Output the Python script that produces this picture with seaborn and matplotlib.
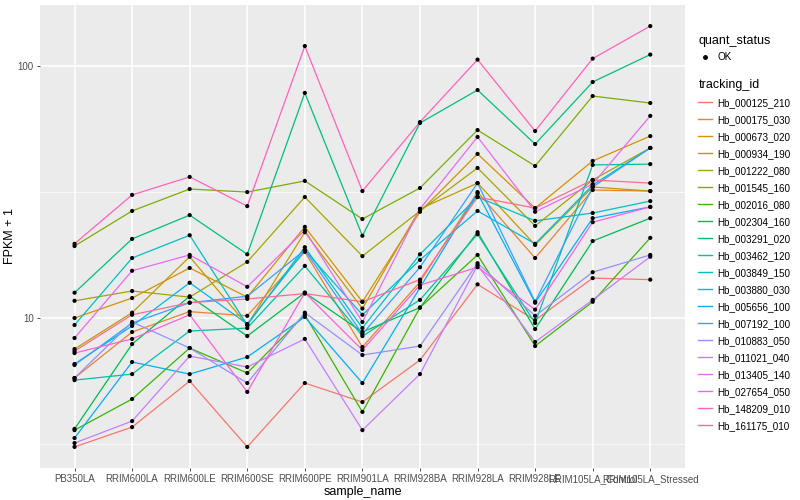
import numpy as np
import pandas as pd
import seaborn as sns
import matplotlib.pyplot as plt
from matplotlib.lines import Line2D

# samples on the x axis
samples = ['PB350LA', 'RRIM600LA', 'RRIM600LE', 'RRIM600SE', 'RRIM600PE', 'RRIM901LA',
           'RRIM928BA', 'RRIM928LA', 'RRIM928LE', 'RRIM105LA_Control', 'RRIM105LA_Stressed']

tracking_ids = ['Hb_000125_210', 'Hb_000175_030', 'Hb_000673_020', 'Hb_000934_190',
                'Hb_001222_080', 'Hb_001545_160', 'Hb_002016_080', 'Hb_002304_160',
                'Hb_003291_020', 'Hb_003462_120', 'Hb_003849_150', 'Hb_003880_030',
                'Hb_005656_100', 'Hb_007192_100', 'Hb_010883_050', 'Hb_011021_040',
                'Hb_013405_140', 'Hb_027654_050', 'Hb_148209_010', 'Hb_161175_010']

# FPKM + 1, one list per gene (same order as samples)
hb_000125_210 = [3.08, 3.69, 5.62, 3.08, 5.52, 4.64, 6.81, 13.6, 9.8, 14.4, 14.2]
hb_000175_030 = [5.78, 8.80, 10.6, 10.2, 18.3, 7.67, 13.9, 31.6, 17.3, 32.2, 31.9]
hb_000673_020 = [10.0, 12.0, 15.8, 12.1, 23.0, 11.6, 26.4, 44.8, 27.3, 42.0, 52.7]
hb_000934_190 = [7.53, 10.5, 17.5, 9.38, 21.9, 10.9, 27.1, 34.3, 19.5, 33.1, 31.9]
hb_001222_080 = [11.7, 12.8, 12.1, 16.7, 30.2, 17.6, 26.6, 39.4, 23.2, 35.3, 47.3]
hb_001545_160 = [19.3, 26.6, 32.5, 31.6, 35.0, 24.7, 32.8, 55.7, 40.1, 76.0, 71.3]
hb_002016_080 = [3.59, 4.77, 7.60, 6.05, 10.3, 4.24, 11.0, 17.8, 7.74, 11.6, 20.8]
hb_002304_160 = [3.63, 7.88, 12.2, 8.48, 12.6, 8.80, 11.0, 21.9, 9.04, 20.2, 24.9]
hb_003291_020 = [12.6, 20.6, 25.6, 17.9, 78.2, 21.2, 59.4, 80.3, 49.0, 86.4, 111.0]
hb_003462_120 = [5.67, 5.99, 8.88, 9.12, 16.1, 8.48, 11.8, 21.5, 9.55, 40.5, 40.8]
hb_003849_150 = [9.38, 17.3, 21.3, 9.38, 19.1, 9.12, 17.9, 30.2, 24.3, 26.1, 29.1]
hb_003880_030 = [6.57, 9.30, 13.8, 9.47, 18.6, 10.3, 17.0, 26.6, 19.7, 33.7, 47.3]
hb_005656_100 = [3.34, 6.69, 5.99, 7.00, 10.1, 5.52, 13.2, 31.3, 11.5, 24.9, 27.6]
hb_007192_100 = [6.51, 9.55, 11.5, 12.2, 18.6, 8.64, 15.9, 34.3, 11.6, 33.1, 47.3]
hb_010883_050 = [5.78, 9.64, 7.60, 5.52, 10.5, 7.13, 7.74, 16.5, 10.2, 15.2, 17.8]
hb_011021_040 = [3.19, 3.90, 7.06, 6.39, 8.26, 3.59, 5.99, 16.2, 8.03, 11.8, 17.5]
hb_013405_140 = [8.33, 15.4, 17.8, 13.3, 22.3, 9.64, 27.1, 52.3, 26.4, 34.0, 63.4]
hb_027654_050 = [7.26, 8.26, 10.3, 5.09, 12.6, 7.46, 13.5, 15.9, 10.8, 24.0, 27.6]
hb_148209_010 = [19.7, 30.8, 36.3, 27.8, 120.0, 31.9, 59.9, 106.0, 55.2, 107.0, 144.0]
hb_161175_010 = [7.39, 10.3, 11.5, 11.9, 12.5, 11.6, 14.2, 30.2, 27.3, 35.3, 34.3]

series = [hb_000125_210, hb_000175_030, hb_000673_020, hb_000934_190, hb_001222_080,
          hb_001545_160, hb_002016_080, hb_002304_160, hb_003291_020, hb_003462_120,
          hb_003849_150, hb_003880_030, hb_005656_100, hb_007192_100, hb_010883_050,
          hb_011021_040, hb_013405_140, hb_027654_050, hb_148209_010, hb_161175_010]

# ggplot2 default hue palette for 20 levels
colors = ['#F8766D', '#EA8331', '#D89000', '#C09B00', '#A3A500', '#7CAE00', '#39B600',
          '#00BB4E', '#00BF7D', '#00C1A3', '#00BFC4', '#00BAE0', '#00B0F6', '#35A2FF',
          '#9590FF', '#C77CFF', '#E76BF3', '#FA62DB', '#FF62BC', '#FF6C91']

df = pd.DataFrame({
    'sample_name': np.tile(samples, len(tracking_ids)),
    'tracking_id': np.repeat(tracking_ids, len(samples)),
    'fpkm': np.concatenate(series),
})

plt.rcParams['font.family'] = ['Liberation Sans', 'DejaVu Sans']

fig = plt.figure(figsize=(8, 5), dpi=100)
ax = fig.add_axes([0.05, 0.064, 0.806, 0.926])
ax.set_facecolor('#EBEBEB')

sns.lineplot(data=df, x='sample_name', y='fpkm', hue='tracking_id', palette=colors,
             sort=False, linewidth=0.9, legend=False, ax=ax, zorder=2)
sns.scatterplot(data=df, x='sample_name', y='fpkm', color='black', s=9,
                edgecolor='none', legend=False, ax=ax, zorder=3)

ax.set_yscale('log')
ax.set_ylim(2.54, 174.6)
ax.set_xlim(-0.6, 10.6)
ax.set_yticks([10, 100])
ax.set_yticklabels(['10', '100'])
ax.set_yticks([10 ** 0.5, 10 ** 1.5], minor=True)
ax.yaxis.set_minor_formatter(plt.NullFormatter())
ax.tick_params(axis='y', which='minor', length=0)

ax.grid(which='major', color='white', linewidth=1.1)
ax.grid(which='minor', axis='y', color='white', linewidth=0.5)
ax.set_axisbelow(True)
for sp in ax.spines.values():
    sp.set_visible(False)

ax.tick_params(axis='both', which='major', length=2.5, width=0.6, color='#333333',
               labelsize=7, labelcolor='#4D4D4D', pad=2)
ax.set_xlabel('sample_name', fontsize=9, labelpad=1)
ax.set_ylabel('FPKM + 1', fontsize=9, labelpad=1)

# legends
qs = [Line2D([], [], marker='o', color='black', linestyle='none', markersize=2.5)]
leg1 = fig.legend(qs, ['OK'], title='quant_status', loc='upper left',
                  bbox_to_anchor=(0.862, 0.947), frameon=False, fontsize=7.1,
                  title_fontsize=9, handlelength=1.4, handletextpad=0.5)
leg1._legend_box.align = 'left'

handles = [Line2D([], [], color=c, linewidth=1.0) for c in colors]
leg2 = fig.legend(handles, tracking_ids, title='tracking_id', loc='upper left',
                  bbox_to_anchor=(0.862, 0.86), frameon=False, fontsize=7.1,
                  title_fontsize=9, handlelength=1.4, handletextpad=0.5,
                  labelspacing=0.71)
leg2._legend_box.align = 'left'

fig.savefig('out.png', dpi=100)
